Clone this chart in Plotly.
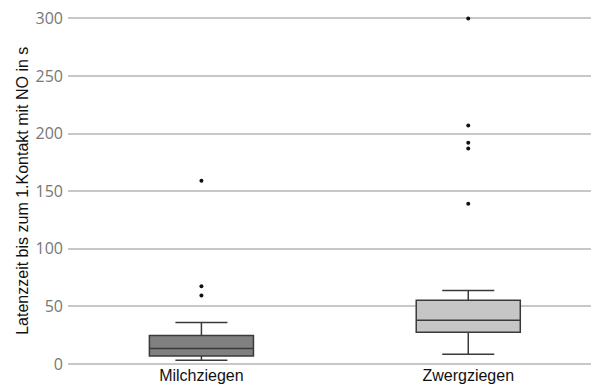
import plotly.graph_objects as go

# Latency until first contact with the novel object (seconds), per goat group
groups = ["Milchziegen", "Zwergziegen"]
q1 = [7, 27.6]
median = [13.4, 38]
q3 = [24.7, 55.3]
lower_fence = [3.3, 8.5]
upper_fence = [36, 63.7]
outliers_milch = [159, 67.5, 59.4]
outliers_zwerg = [300, 207, 192, 187, 139.2]
y_title = "Latenzzeit bis zum 1.Kontakt mit NO in s"

fills = ["#808080", "#c6c6c6"]
line_color = "#3a3a3a"
label_font = dict(family="Liberation Sans, Arial, sans-serif", size=16, color="#111111")

fig = go.Figure()

for i, g in enumerate(groups):
    fig.add_trace(go.Box(
        x=[g],
        q1=[q1[i]],
        median=[median[i]],
        q3=[q3[i]],
        lowerfence=[lower_fence[i]],
        upperfence=[upper_fence[i]],
        width=0.39,
        whiskerwidth=0.5,
        fillcolor=fills[i],
        line=dict(color=line_color, width=1.5),
        boxpoints=False,
        showlegend=False,
        hoverinfo="skip",
    ))

for g, vals in zip(groups, [outliers_milch, outliers_zwerg]):
    fig.add_trace(go.Scatter(
        x=[g] * len(vals),
        y=vals,
        mode="markers",
        marker=dict(color="#111111", size=4),
        showlegend=False,
        hoverinfo="skip",
    ))

fig.update_layout(
    width=591,
    height=384,
    margin=dict(l=67.5, r=0, t=0, b=19.5),
    paper_bgcolor="white",
    plot_bgcolor="white",
    font=label_font,
)

fig.update_xaxes(
    type="category",
    categoryorder="array",
    categoryarray=groups,
    range=[-0.5, 1.46],
    showgrid=False,
    showline=False,
    ticks="",
    tickfont=label_font,
)

fig.update_yaxes(
    range=[0, 316],
    tickvals=[0, 50, 100, 150, 200, 250, 300],
    showgrid=True,
    gridcolor="#c8c8c8",
    gridwidth=1.5,
    zeroline=True,
    zerolinecolor="#c8c8c8",
    zerolinewidth=1.5,
    showline=False,
    ticks="",
    ticklabelstandoff=4,
    tickfont=dict(family="Open Sans, sans-serif", size=16, color="#777777"),
)

# Vertical axis title, drawn as a rotated annotation
fig.add_annotation(
    text=y_title,
    textangle=-90,
    xref="paper", yref="paper",
    x=-67.5 / 523.5 + 22 / 523.5, y=(364.5 - 191.5) / 364.5,
    xanchor="center", yanchor="middle",
    showarrow=False,
    font=label_font,
)

fig.write_html("out.html")
